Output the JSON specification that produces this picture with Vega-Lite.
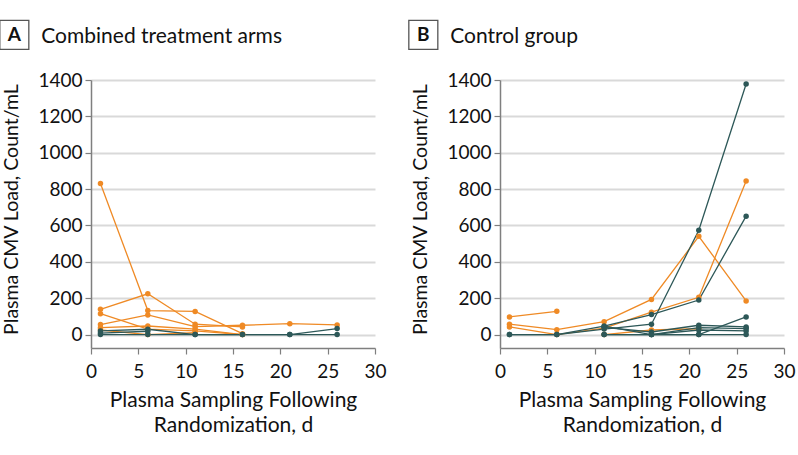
{
  "$schema": "https://vega.github.io/schema/vega-lite/v6.json",
  "padding": {"left": -3, "top": 17, "right": 3, "bottom": 5},
  "background": "white",
  "config": {
    "view": {"stroke": null},
    "font": "Lato",
    "text": {"font": "Lato", "color": "#111"},
    "axis": {
      "labelFont": "Lato", "titleFont": "Lato",
      "labelFontSize": 19, "titleFontSize": 21, "titleFontWeight": "normal",
      "labelColor": "#111", "titleColor": "#111",
      "domainColor": "#7f7f7f", "domainWidth": 1.5,
      "tickColor": "#7f7f7f", "tickWidth": 1.2, "tickSize": 6,
      "labelOverlap": false, "labelFlush": false
    },
    "axisX": {"values": [0, 5, 10, 15, 20, 25, 30], "grid": false, "labelPadding": 8, "titlePadding": 8, "titleLineHeight": 25.5},
    "axisY": {"values": [0, 200, 400, 600, 800, 1000, 1200, 1400], "format": "d", "grid": true, "gridColor": "#d9d9d9", "gridWidth": 1.8,
      "labelPadding": 3, "titleFontSize": 19.5, "titleX": -73.5, "titleY": 129, "titleBaseline": "alphabetic", "titleAngle": 270, "titleAlign": "center"}
  },
  "datasets": {
    "panelA": [
      {"id": "A1", "grp": "orange", "day": 1, "load": 831},
      {"id": "A1", "grp": "orange", "day": 6, "load": 132},
      {"id": "A1", "grp": "orange", "day": 11, "load": 127},
      {"id": "A1", "grp": "orange", "day": 16, "load": 5},
      {"id": "A2", "grp": "orange", "day": 1, "load": 139},
      {"id": "A2", "grp": "orange", "day": 6, "load": 224},
      {"id": "A2", "grp": "orange", "day": 11, "load": 57},
      {"id": "A2", "grp": "orange", "day": 16, "load": 42},
      {"id": "A3", "grp": "orange", "day": 1, "load": 115},
      {"id": "A3", "grp": "orange", "day": 6, "load": 30},
      {"id": "A3", "grp": "orange", "day": 11, "load": 20},
      {"id": "A3", "grp": "orange", "day": 16, "load": 0},
      {"id": "A4", "grp": "orange", "day": 1, "load": 55},
      {"id": "A4", "grp": "orange", "day": 6, "load": 108},
      {"id": "A4", "grp": "orange", "day": 11, "load": 44},
      {"id": "A4", "grp": "orange", "day": 16, "load": 51},
      {"id": "A4", "grp": "orange", "day": 21, "load": 60},
      {"id": "A4", "grp": "orange", "day": 26, "load": 53},
      {"id": "A5", "grp": "orange", "day": 1, "load": 38},
      {"id": "A5", "grp": "orange", "day": 6, "load": 47},
      {"id": "A5", "grp": "orange", "day": 11, "load": 30},
      {"id": "A5", "grp": "orange", "day": 16, "load": 0},
      {"id": "A6", "grp": "orange", "day": 1, "load": 25},
      {"id": "A6", "grp": "orange", "day": 6, "load": 0},
      {"id": "A6", "grp": "orange", "day": 11, "load": 10},
      {"id": "A7", "grp": "teal", "day": 1, "load": 20},
      {"id": "A7", "grp": "teal", "day": 6, "load": 29},
      {"id": "A7", "grp": "teal", "day": 11, "load": 0},
      {"id": "A7", "grp": "teal", "day": 16, "load": 0},
      {"id": "A7", "grp": "teal", "day": 21, "load": 0},
      {"id": "A7", "grp": "teal", "day": 26, "load": 33},
      {"id": "A8", "grp": "teal", "day": 1, "load": 0},
      {"id": "A8", "grp": "teal", "day": 6, "load": 0},
      {"id": "A8", "grp": "teal", "day": 11, "load": 0},
      {"id": "A8", "grp": "teal", "day": 16, "load": 0},
      {"id": "A8", "grp": "teal", "day": 21, "load": 0},
      {"id": "A8", "grp": "teal", "day": 26, "load": 0},
      {"id": "A9", "grp": "teal", "day": 1, "load": 8},
      {"id": "A9", "grp": "teal", "day": 6, "load": 18}
    ],
    "panelB": [
      {"id": "B1", "grp": "orange", "day": 1, "load": 97},
      {"id": "B1", "grp": "orange", "day": 6, "load": 128},
      {"id": "B2", "grp": "orange", "day": 1, "load": 57},
      {"id": "B2", "grp": "orange", "day": 6, "load": 27},
      {"id": "B2", "grp": "orange", "day": 11, "load": 71},
      {"id": "B2", "grp": "orange", "day": 16, "load": 193},
      {"id": "B2", "grp": "orange", "day": 21, "load": 540},
      {"id": "B2", "grp": "orange", "day": 26, "load": 185},
      {"id": "B3", "grp": "orange", "day": 1, "load": 42},
      {"id": "B3", "grp": "orange", "day": 6, "load": 0},
      {"id": "B3", "grp": "orange", "day": 11, "load": 35},
      {"id": "B3", "grp": "orange", "day": 16, "load": 123},
      {"id": "B3", "grp": "orange", "day": 21, "load": 205},
      {"id": "B3", "grp": "orange", "day": 26, "load": 844},
      {"id": "B4", "grp": "teal", "day": 1, "load": 0},
      {"id": "B4", "grp": "teal", "day": 6, "load": 0},
      {"id": "B4", "grp": "teal", "day": 11, "load": 46},
      {"id": "B4", "grp": "teal", "day": 16, "load": 110},
      {"id": "B4", "grp": "teal", "day": 21, "load": 190},
      {"id": "B4", "grp": "teal", "day": 26, "load": 651},
      {"id": "B5", "grp": "teal", "day": 1, "load": 0},
      {"id": "B5", "grp": "teal", "day": 6, "load": 0},
      {"id": "B5", "grp": "teal", "day": 11, "load": 30},
      {"id": "B5", "grp": "teal", "day": 16, "load": 57},
      {"id": "B5", "grp": "teal", "day": 21, "load": 574},
      {"id": "B5", "grp": "teal", "day": 26, "load": 1378},
      {"id": "B6", "grp": "orange", "day": 11, "load": 0},
      {"id": "B6", "grp": "orange", "day": 16, "load": 25},
      {"id": "B6", "grp": "orange", "day": 21, "load": 32},
      {"id": "B7", "grp": "teal", "day": 11, "load": 0},
      {"id": "B7", "grp": "teal", "day": 16, "load": 0},
      {"id": "B7", "grp": "teal", "day": 21, "load": 0},
      {"id": "B7", "grp": "teal", "day": 26, "load": 97},
      {"id": "B8", "grp": "teal", "day": 11, "load": 40},
      {"id": "B8", "grp": "teal", "day": 16, "load": 14},
      {"id": "B8", "grp": "teal", "day": 21, "load": 51},
      {"id": "B8", "grp": "teal", "day": 26, "load": 42},
      {"id": "B9", "grp": "teal", "day": 11, "load": 46},
      {"id": "B9", "grp": "teal", "day": 16, "load": 0},
      {"id": "B9", "grp": "teal", "day": 21, "load": 38},
      {"id": "B9", "grp": "teal", "day": 26, "load": 33},
      {"id": "B10", "grp": "teal", "day": 11, "load": 0},
      {"id": "B10", "grp": "teal", "day": 16, "load": 0},
      {"id": "B10", "grp": "teal", "day": 21, "load": 25},
      {"id": "B10", "grp": "teal", "day": 26, "load": 20},
      {"id": "B11", "grp": "teal", "day": 16, "load": 0},
      {"id": "B11", "grp": "teal", "day": 21, "load": 0},
      {"id": "B11", "grp": "teal", "day": 26, "load": 0}
    ],
    "headA": [{"letter": "A", "label": "Combined treatment arms"}],
    "headB": [{"letter": "B", "label": "Control group"}]
  },
  "spacing": 19,
  "hconcat": [
    {
      "width": 284, "height": 268,
      "layer": [
        {
          "data": {"name": "panelA"},
          "mark": {"type": "line", "strokeWidth": 1.3},
          "encoding": {
            "x": {"field": "day", "type": "quantitative", "scale": {"domain": [0, 30], "nice": false},
              "axis": {"title": ["Plasma Sampling Following", "Randomization, d"]}},
            "y": {"field": "load", "type": "quantitative", "scale": {"domain": [-74, 1400], "nice": false, "zero": false},
              "axis": {"title": "Plasma CMV Load, Count/mL"}},
            "color": {"field": "grp", "type": "nominal", "scale": {"domain": ["orange", "teal"], "range": ["#EF8A25", "#2D5858"]}, "legend": null},
            "detail": {"field": "id"}
          }
        },
        {
          "data": {"name": "panelA"},
          "mark": {"type": "point", "filled": true, "size": 30, "opacity": 1},
          "encoding": {
            "x": {"field": "day", "type": "quantitative", "scale": {"domain": [0, 30], "nice": false},
              "axis": {"title": ["Plasma Sampling Following", "Randomization, d"]}},
            "y": {"field": "load", "type": "quantitative", "scale": {"domain": [-74, 1400], "nice": false, "zero": false},
              "axis": {"title": "Plasma CMV Load, Count/mL"}},
            "color": {"field": "grp", "type": "nominal", "scale": {"domain": ["orange", "teal"], "range": ["#EF8A25", "#2D5858"]}, "legend": null}
          }
        },
        {
          "data": {"name": "headA"},
          "mark": {"type": "point", "shape": "square", "filled": false, "size": 841, "stroke": "#555", "strokeWidth": 1.3, "opacity": 1},
          "encoding": {
            "x": {"datum": -8.1, "type": "quantitative", "scale": {"domain": [0, 30], "nice": false},
              "axis": {"title": ["Plasma Sampling Following", "Randomization, d"]}},
            "y": {"datum": 1648, "type": "quantitative", "scale": {"domain": [-74, 1400], "nice": false, "zero": false},
              "axis": {"title": "Plasma CMV Load, Count/mL"}}
          }
        },
        {
          "data": {"name": "headA"},
          "mark": {"type": "text", "fontWeight": "bold", "fontSize": 19, "align": "center", "baseline": "middle", "color": "#111"},
          "encoding": {
            "x": {"datum": -8.1, "type": "quantitative", "scale": {"domain": [0, 30], "nice": false},
              "axis": {"title": ["Plasma Sampling Following", "Randomization, d"]}},
            "y": {"datum": 1648, "type": "quantitative", "scale": {"domain": [-74, 1400], "nice": false, "zero": false},
              "axis": {"title": "Plasma CMV Load, Count/mL"}},
            "text": {"field": "letter"}
          }
        },
        {
          "data": {"name": "headA"},
          "mark": {"type": "text", "fontSize": 21, "align": "left", "baseline": "alphabetic", "color": "#111"},
          "encoding": {
            "x": {"datum": -5.25, "type": "quantitative", "scale": {"domain": [0, 30], "nice": false},
              "axis": {"title": ["Plasma Sampling Following", "Randomization, d"]}},
            "y": {"datum": 1603, "type": "quantitative", "scale": {"domain": [-74, 1400], "nice": false, "zero": false},
              "axis": {"title": "Plasma CMV Load, Count/mL"}},
            "text": {"field": "label"}
          }
        }
      ]
    },
    {
      "width": 284, "height": 268,
      "layer": [
        {
          "data": {"name": "panelB"},
          "mark": {"type": "line", "strokeWidth": 1.3},
          "encoding": {
            "x": {"field": "day", "type": "quantitative", "scale": {"domain": [0, 30], "nice": false},
              "axis": {"title": ["Plasma Sampling Following", "Randomization, d"]}},
            "y": {"field": "load", "type": "quantitative", "scale": {"domain": [-74, 1400], "nice": false, "zero": false},
              "axis": {"title": "Plasma CMV Load, Count/mL"}},
            "color": {"field": "grp", "type": "nominal", "scale": {"domain": ["orange", "teal"], "range": ["#EF8A25", "#2D5858"]}, "legend": null},
            "detail": {"field": "id"}
          }
        },
        {
          "data": {"name": "panelB"},
          "mark": {"type": "point", "filled": true, "size": 30, "opacity": 1},
          "encoding": {
            "x": {"field": "day", "type": "quantitative", "scale": {"domain": [0, 30], "nice": false},
              "axis": {"title": ["Plasma Sampling Following", "Randomization, d"]}},
            "y": {"field": "load", "type": "quantitative", "scale": {"domain": [-74, 1400], "nice": false, "zero": false},
              "axis": {"title": "Plasma CMV Load, Count/mL"}},
            "color": {"field": "grp", "type": "nominal", "scale": {"domain": ["orange", "teal"], "range": ["#EF8A25", "#2D5858"]}, "legend": null}
          }
        },
        {
          "data": {"name": "headB"},
          "mark": {"type": "point", "shape": "square", "filled": false, "size": 841, "stroke": "#555", "strokeWidth": 1.3, "opacity": 1},
          "encoding": {
            "x": {"datum": -8.1, "type": "quantitative", "scale": {"domain": [0, 30], "nice": false},
              "axis": {"title": ["Plasma Sampling Following", "Randomization, d"]}},
            "y": {"datum": 1648, "type": "quantitative", "scale": {"domain": [-74, 1400], "nice": false, "zero": false},
              "axis": {"title": "Plasma CMV Load, Count/mL"}}
          }
        },
        {
          "data": {"name": "headB"},
          "mark": {"type": "text", "fontWeight": "bold", "fontSize": 19, "align": "center", "baseline": "middle", "color": "#111"},
          "encoding": {
            "x": {"datum": -8.1, "type": "quantitative", "scale": {"domain": [0, 30], "nice": false},
              "axis": {"title": ["Plasma Sampling Following", "Randomization, d"]}},
            "y": {"datum": 1648, "type": "quantitative", "scale": {"domain": [-74, 1400], "nice": false, "zero": false},
              "axis": {"title": "Plasma CMV Load, Count/mL"}},
            "text": {"field": "letter"}
          }
        },
        {
          "data": {"name": "headB"},
          "mark": {"type": "text", "fontSize": 21, "align": "left", "baseline": "alphabetic", "color": "#111"},
          "encoding": {
            "x": {"datum": -5.25, "type": "quantitative", "scale": {"domain": [0, 30], "nice": false},
              "axis": {"title": ["Plasma Sampling Following", "Randomization, d"]}},
            "y": {"datum": 1603, "type": "quantitative", "scale": {"domain": [-74, 1400], "nice": false, "zero": false},
              "axis": {"title": "Plasma CMV Load, Count/mL"}},
            "text": {"field": "label"}
          }
        }
      ]
    }
  ]
}
